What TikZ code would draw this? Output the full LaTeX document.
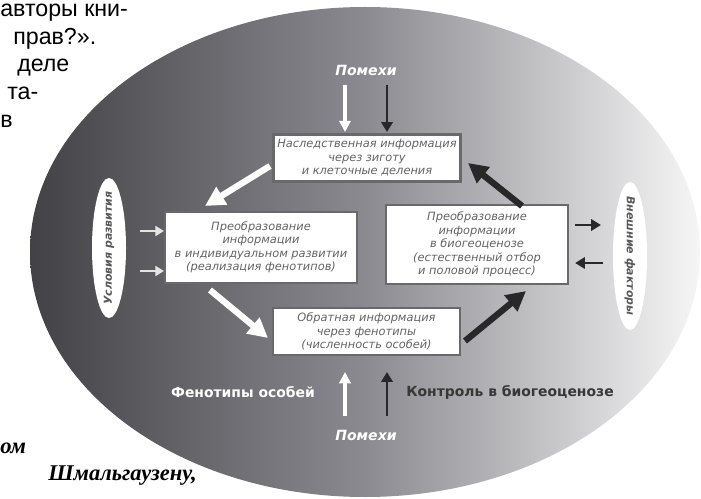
\documentclass[tikz,border=0pt]{standalone}
\usepackage{fontspec}
\setmainfont{Liberation Sans}
\newfontfamily\dv{DejaVu Sans}
\newfontfamily\lserif{Liberation Serif}
\usetikzlibrary{arrows.meta,shapes.geometric}
\definecolor{elL}{RGB}{66,66,70}
\definecolor{elM}{RGB}{138,138,144}
\definecolor{elR}{RGB}{246,246,246}
\definecolor{boxline}{RGB}{105,105,105}
\definecolor{boxtext}{RGB}{100,100,100}
\definecolor{darkarr}{RGB}{40,40,40}
\definecolor{ctrltext}{RGB}{55,55,55}
\begin{document}
\begin{tikzpicture}[x=0.025cm,y=-0.025cm,
 box/.style={draw=boxline,line width=1.5pt,fill=white,align=center,text=boxtext,
   font=\dv\itshape\fontsize{8.1}{9.6}\selectfont,inner sep=0pt},
 bigwhite/.style={draw=white,line width=4.5pt,-{Triangle[length=14pt,width=14pt]}},
 bigdark/.style={draw=darkarr,line width=4.5pt,-{Triangle[length=14pt,width=14pt]}},
 thinwhite/.style={draw=white,line width=2.2pt,-{Triangle[length=8pt,width=8pt]}},
 thinlight/.style={draw=gray!20,line width=2pt,-{Triangle[length=6pt,width=7pt]}},
 thindark/.style={draw=darkarr,line width=2pt,-{Triangle[length=7pt,width=8pt]}},
 lab/.style={font=\dv\bfseries\fontsize{9.9}{12}\selectfont,inner sep=0pt},
 noise/.style={font=\dv\bfseries\itshape\fontsize{10}{12}\selectfont,text=white,inner sep=0pt},
 side/.style={fill=white,draw=none,ellipse,inner sep=0pt},
 sidetext/.style={font=\dv\bfseries\itshape\fontsize{7.8}{9}\selectfont,text=gray!70!black,inner sep=0pt},
 pagetext/.style={font=\fontsize{16.5}{18}\selectfont,anchor=base west,inner sep=0pt},
 quote/.style={font=\lserif\bfseries\itshape\fontsize{16}{20}\selectfont,anchor=base west,inner sep=0pt}
]
\useasboundingbox (0,0) rectangle (701,498);
\fill[white] (0,0) rectangle (701,498);
\shade[left color=elL,right color=elR,middle color=elM] (365,252) ellipse [x radius=335,y radius=245];

% side ellipses
\node[side,minimum width=0.85cm,minimum height=3.5cm] (cond) at (109,248) {};
\node[sidetext,rotate=90] (condt) at (cond) {Условия развития};
\node[side,minimum width=0.85cm,minimum height=3.7cm] (ext) at (630,256) {};
\node[sidetext,rotate=-90] (extt) at (ext) {Внешние факторы};

% boxes
\node[box,minimum width=4.675cm,minimum height=1.175cm] (top) at (367,158)
  {Наследственная информация\\через зиготу\\и клеточные деления};
\node[box,minimum width=4.8cm,minimum height=1.775cm] (left) at (261,247.5)
  {Преобразование\\информации\\в индивидуальном развитии\\(реализация фенотипов)};
\node[box,minimum width=4.55cm,minimum height=1.975cm] (right) at (477,244.5)
  {Преобразование\\информации\\в биогеоценозе\\(естественный отбор\\и половой процесс)};
\node[box,minimum width=4.675cm,minimum height=1.175cm] (bottom) at (366.5,331.5)
  {Обратная информация\\через фенотипы\\(численность особей)};

% labels
\node[noise] (pt) at (366,70) {Помехи};
\node[noise] (pb) at (366,435) {Помехи};
\node[lab,text=white] (phen) at (243,392) {Фенотипы особей};
\node[lab,text=ctrltext] (ctrl) at (510,392) {Контроль в биогеоценозе};

% noise arrows at top
\coordinate (tw) at (345,85);
\coordinate (td) at (387,85);
\draw[thinwhite,shorten >=1pt] (tw) -- (tw |- top.north);
\draw[thindark,shorten >=1pt] (td) -- (td |- top.north);
% bottom arrows
\coordinate (bw) at (345,416);
\coordinate (bwe) at (345,372);
\coordinate (bd) at (387,416);
\coordinate (bde) at (387,372);
\draw[thinwhite] (bw) -- (bwe);
\draw[thindark] (bd) -- (bde);

% big diagonal arrows
\coordinate (d1s) at (270,166);
\coordinate (d1e) at (205,206);
\draw[bigwhite] (d1s) -- (d1e);
\coordinate (d2s) at (210,290);
\coordinate (d2e) at (268,338);
\draw[bigwhite] (d2s) -- (d2e);
\coordinate (d3s) at (465,341);
\coordinate (d3e) at (526,291);
\draw[bigdark] (d3s) -- (d3e);
\coordinate (d4s) at (522,206);
\coordinate (d4e) at (468,163);
\draw[bigdark] (d4s) -- (d4e);

% side arrows
\coordinate (la1) at (140,231);
\coordinate (la2) at (140,271);
\draw[thinlight] (la1) -- (la1 -| left.west);
\draw[thinlight] (la2) -- (la2 -| left.west);
\coordinate (ra1) at (601,225);
\coordinate (ra2) at (603,263);
\draw[thindark] (right.east |- ra1) ++(6,0) -- (ra1);
\draw[thindark] (ra2) -- ([xshift=0.15cm]right.east |- ra2);

% surrounding page text
\node[pagetext] (t1) at (0,17) {авторы кни-};
\node[pagetext] (t2) at (13,45) {прав?».};
\node[pagetext] (t3) at (17,72) {деле};
\node[pagetext] (t4) at (7,100) {та-};
\node[pagetext] (t5) at (0,128) {в};
\node[quote] (q1) at (0,453) {ом};
\node[quote] (q2) at (48,480) {Шмальгаузену,};
\end{tikzpicture}
\end{document}
